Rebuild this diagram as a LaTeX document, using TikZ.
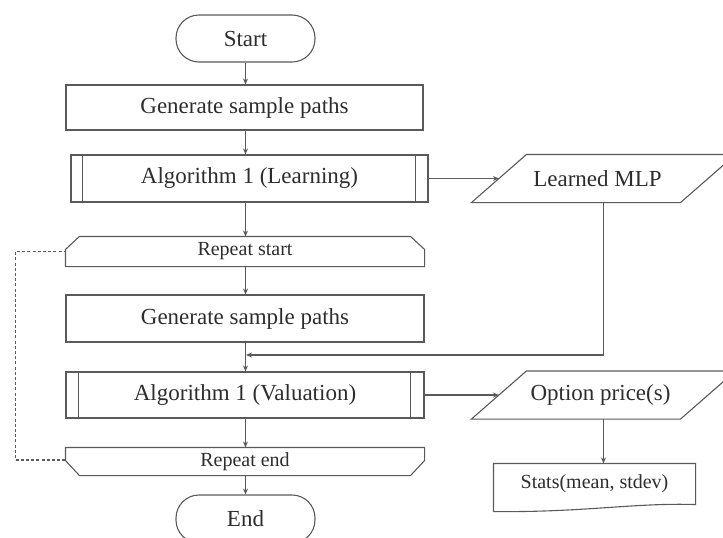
\documentclass[tikz,border=0pt]{standalone}
\usepackage{fontspec}
\setmainfont{Liberation Serif}
\usetikzlibrary{arrows.meta,calc}
\definecolor{ln}{RGB}{90,90,90}
\definecolor{tx}{RGB}{45,45,45}
\begin{document}
\begin{tikzpicture}[x=1pt,y=-1pt,
  base/.style={line width=1.1pt,draw=ln,text=tx,inner sep=0pt,font=\fontsize{23}{26}\selectfont},
  term/.style={base,rounded corners=23pt,minimum width=139pt,minimum height=47pt},
  proc/.style={base,rectangle,minimum height=46pt},
  plain/.style={base,draw=none,minimum height=46pt},
  small/.style={font=\fontsize{20}{23}\selectfont},
  outl/.style={line width=1.1pt,draw=ln},
  arr/.style={line width=1.1pt,draw=ln,-{Stealth[length=6pt,width=5pt]}},
  loopline/.style={line width=1.1pt,draw=ln,dash pattern=on 3pt off 2.2pt}]
\useasboundingbox (0,0) rectangle (723,538);

% main column
\node[term] (start) at (245.5,38.5) {Start};
\node[proc,minimum width=357pt,minimum height=45pt] (gen1) at (244.5,107.5) {Generate sample paths};
\node[proc,minimum width=357pt,minimum height=47pt] (alg1) at (249.5,178.5) {Algorithm 1 (Learning)};
\node[plain,small,minimum width=358pt,minimum height=29pt] (rs) at (245,251.5) {Repeat start};
\node[proc,minimum width=358pt,minimum height=47pt] (gen2) at (245,318.5) {Generate sample paths};
\node[proc,minimum width=358pt,minimum height=46pt] (alg2) at (245,395) {Algorithm 1 (Valuation)};
\node[plain,small,minimum width=358pt,minimum height=27pt] (re) at (245,461.5) {Repeat end};
\node[term,minimum width=139pt,minimum height=48pt] (end) at (245.5,519) {End};

% right column
\node[plain,minimum width=208pt,minimum height=47pt] (mlp) at (603.5,178.5) {\hspace*{-12pt}Learned MLP};
\node[plain,minimum width=208pt,minimum height=47pt] (opt) at (603.5,395) {\hspace*{-6pt}Option price(s)};
\node[plain,font=\fontsize{20}{23}\selectfont,minimum width=201pt,minimum height=40pt] (stats) at (594.5,484) {Stats(mean, stdev)};

% predefined-process side bars
\draw[outl] ([xshift=12pt]alg1.north west) -- ([xshift=12pt]alg1.south west);
\draw[outl] ([xshift=-13pt]alg1.north east) -- ([xshift=-13pt]alg1.south east);
\draw[outl] ([xshift=13pt]alg2.north west) -- ([xshift=13pt]alg2.south west);
\draw[outl] ([xshift=-14pt]alg2.north east) -- ([xshift=-14pt]alg2.south east);

% loop limit shapes
\draw[outl] (rs.south west) -- ([yshift=-13pt]rs.north west) -- ([xshift=14pt]rs.north west)
  -- ([xshift=-14pt]rs.north east) -- ([yshift=-13pt]rs.north east) -- (rs.south east) -- cycle;
\draw[outl] (re.north west) -- ([yshift=15pt]re.south west) -- ([xshift=14pt]re.south west)
  -- ([xshift=-14pt]re.south east) -- ([yshift=15pt]re.south east) -- (re.north east) -- cycle;

% parallelograms
\draw[outl] ([xshift=-27.5pt]mlp.south west) -- ([xshift=-27.5pt]mlp.south east)
  -- ([xshift=27.5pt]mlp.north east) -- ([xshift=27.5pt]mlp.north west) -- cycle;
\draw[outl] ([xshift=-27.5pt]opt.south west) -- ([xshift=-27.5pt]opt.south east)
  -- ([xshift=27.5pt]opt.north east) -- ([xshift=27.5pt]opt.north west) -- cycle;

% document shape
\draw[outl] ([yshift=-7pt]stats.south west) -- (stats.north west) -- (stats.north east) -- (stats.south east)
  .. controls ($(stats.south east)+(-60,-2)$) and ($(stats.south west)+(90,8)$) .. ([yshift=-7pt]stats.south west);

% connectors
\draw[arr] (start.south) -- (start.south |- gen1.north);
\draw[arr] (gen1.south -| start.south) -- (start.south |- alg1.north);
\draw[arr] (alg1.south -| start.south) -- (start.south |- rs.north);
\draw[arr] (rs.south -| start.south) -- (start.south |- gen2.north);
\draw[outl] (gen2.south -| start.south) -- (start.south |- alg2.north);
\draw[arr] ($(start.south |- alg2.north)+(0,-6)$) -- (start.south |- alg2.north);
\draw[arr] (alg2.south -| start.south) -- (start.south |- re.north);
\draw[arr] (re.south -| start.south) -- (start.south |- end.north);

\coordinate (merge) at (245,355);
\draw[arr] (mlp.south) -- (mlp.south |- merge) -- ([xshift=1pt]merge);
\draw[arr] (alg1.east) -- (alg1.east -| mlp.west);
\draw[arr] (alg2.east) -- (alg2.east -| opt.west);
\draw[arr] (opt.south) -- (opt.south |- stats.north);

\draw[loopline] ([yshift=1.5pt]re.west) -- ++(-50,0) |- (rs.west);
\end{tikzpicture}
\end{document}
